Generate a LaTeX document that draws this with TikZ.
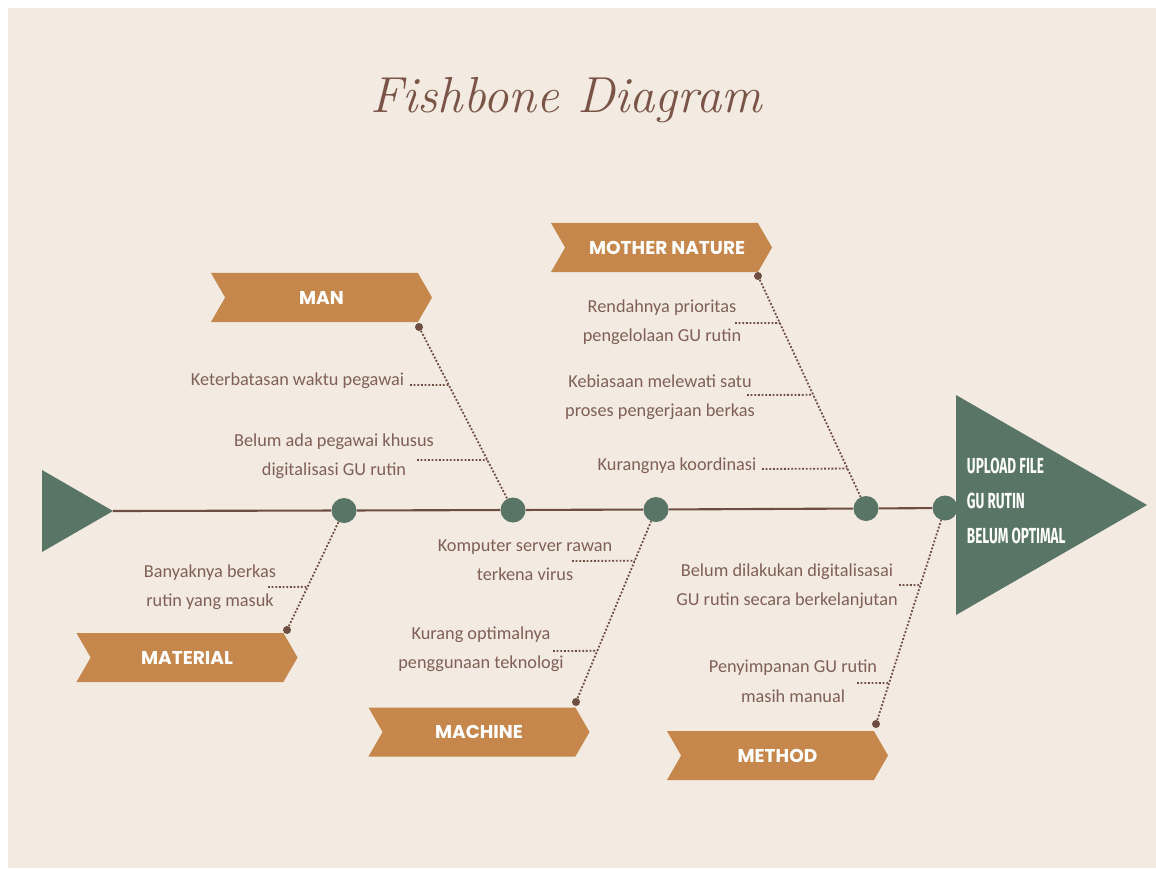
\documentclass[tikz,border=0pt]{standalone}
\usepackage{fontspec}
\setmainfont{Carlito}
\newfontfamily\bannerfont{Poppins}
\newfontfamily\headfont{Fira Sans}[FakeStretch=0.62]
\newfontfamily\titlefont{Latin Modern Roman}
\usepackage{tikz}
\usetikzlibrary{shapes.symbols, calc}
\definecolor{paper}{RGB}{243,234,225}
\definecolor{fishgreen}{RGB}{88,117,101}
\definecolor{ribbon}{RGB}{198,135,76}
\definecolor{bonebrown}{RGB}{110,78,66}
\definecolor{labeltext}{RGB}{128,96,86}
\definecolor{titlebrown}{RGB}{122,84,70}

\begin{document}
\begin{tikzpicture}[x=0.025cm, y=-0.025cm]
\tikzstyle{banner} = [signal, signal to=east, signal from=west, signal pointer angle=120, minimum width=5.525cm, minimum height=1.225cm, inner sep=0pt, fill=ribbon, text=white, font=\bannerfont\bfseries\fontsize{13.2}{15}\selectfont]
\tikzstyle{joint} = [circle, fill=fishgreen, minimum size=0.625cm, inner sep=0pt]
\tikzstyle{tip} = [circle, fill=bonebrown, minimum size=0.2cm, inner sep=0pt]
\tikzstyle{cause} = [align=center, text=labeltext, font=\fontsize{13}{21}\selectfont]
\tikzstyle{bone} = [draw=bonebrown, line width=1.3pt, dash pattern=on 1.3pt off 1.3pt]

\useasboundingbox (0,0) rectangle (1156,868);
\fill[white] (0,0) rectangle (1156,868);
\fill[paper] (8,8) rectangle (1156,868);

\node (title) [text=titlebrown, font=\titlefont\itshape\fontsize{36}{42}\selectfont] at (566,100) {Fishbone Diagram};

\fill[fishgreen] (42,470) -- (113,511) -- (42,552) -- cycle;
\coordinate (tail) at (113,511);
\fill[fishgreen] (956,395) -- (1147,505) -- (956,615) -- cycle;

\node (j1) [joint] at (344,510.5) {};
\node (j2) [joint] at (513,510) {};
\node (j3) [joint] at (656,509.5) {};
\node (j4) [joint] at (866,508.5) {};
\node (j5) [joint] at (945,508) {};
\draw [bonebrown, line width=1.5pt] (tail) -- (j1) -- (j2) -- (j3) -- (j4) -- (j5);

\node (effect) [anchor=west, align=left, text=white, font=\headfont\bfseries\fontsize{15.5}{25}\selectfont] at (962,501) {UPLOAD FILE\\GU RUTIN\\BELUM OPTIMAL};

\node (man)      [banner] at (321.5,297.5) {MAN};
\node (nature)   [banner] at (661.5,247.5) {\hspace*{8pt}MOTHER NATURE};
\node (material) [banner] at (187,657.5) {MATERIAL};
\node (machine)  [banner] at (479,732) {MACHINE};
\node (method)   [banner] at (777.5,755.5) {METHOD};

\node (mantip)      [tip] at (419,327) {};
\node (naturetip)   [tip] at (758,276) {};
\node (materialtip) [tip] at (287,630) {};
\node (machinetip)  [tip] at (576,702) {};
\node (methodtip)   [tip] at (876,724) {};

\draw [bone] (mantip) -- (j2);
\draw [bone] (naturetip) -- (j4);
\draw [bone] (materialtip) -- (j1);
\draw [bone] (machinetip) -- (j3);
\draw [bone] (methodtip) -- (j5);

\node (k1)  [cause] at (297.5,381) {Keterbatasan waktu pegawai};
\node (k2)  [cause] at (334,456) {Belum ada pegawai khusus\\digitalisasi GU rutin};
\node (k3)  [cause] at (662,322) {Rendahnya prioritas\\pengelolaan GU rutin};
\node (k4)  [cause] at (660,397) {Kebiasaan melewati satu\\proses pengerjaan berkas};
\node (k5)  [cause] at (677,466) {Kurangnya koordinasi};
\node (k6)  [cause] at (210,587) {Banyaknya berkas\\rutin yang masuk};
\node (k7)  [cause] at (525,560) {Komputer server rawan\\terkena virus};
\node (k8)  [cause] at (481,649) {Kurang optimalnya\\penggunaan teknologi};
\node (k9)  [cause] at (787,586) {Belum dilakukan digitalisasai\\GU rutin secara berkelanjutan};
\node (k10) [cause] at (793,681) {Penyimpanan GU rutin\\masih manual};

\coordinate (t1)  at (410,385);
\coordinate (t2)  at (417,460);
\coordinate (t3)  at (735,323);
\coordinate (t4)  at (747,395);
\coordinate (t5)  at (762,469);
\coordinate (t6)  at (268,587);
\coordinate (t7)  at (572,561);
\coordinate (t8)  at (553,651);
\coordinate (t9)  at (899,585);
\coordinate (t10) at (857,683);

\draw [bone] (t1) -- ($(mantip)!0.317!(j2)$);
\draw [bone] (t2) -- ($(mantip)!0.727!(j2)$);
\draw [bone] (t3) -- ($(naturetip)!0.202!(j4)$);
\draw [bone] (t4) -- ($(naturetip)!0.511!(j4)$);
\draw [bone] (t5) -- ($(naturetip)!0.828!(j4)$);
\draw [bone] (t6) -- ($(materialtip)!0.361!(j1)$);
\draw [bone] (t7) -- ($(machinetip)!0.734!(j3)$);
\draw [bone] (t8) -- ($(machinetip)!0.266!(j3)$);
\draw [bone] (t9) -- ($(methodtip)!0.644!(j5)$);
\draw [bone] (t10) -- ($(methodtip)!0.190!(j5)$);

\end{tikzpicture}
\end{document}
